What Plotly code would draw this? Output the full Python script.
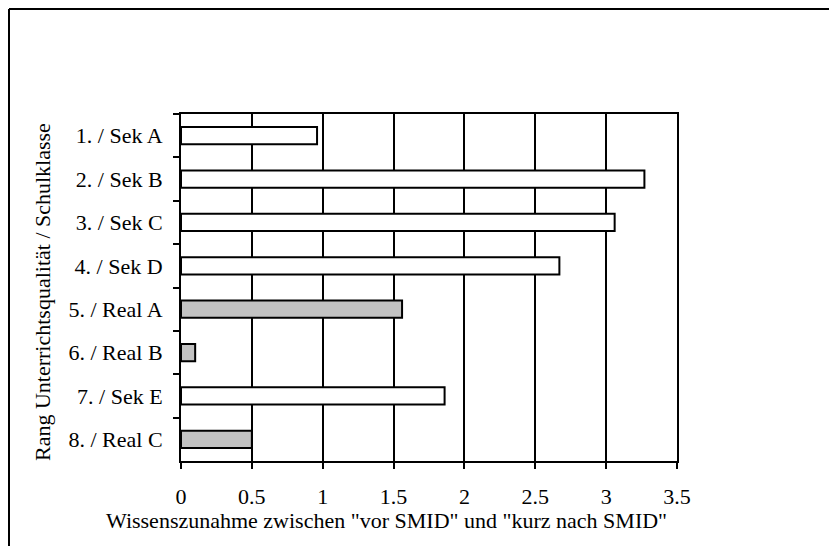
import plotly.graph_objects as go

categories = ["1. / Sek A", "2. / Sek B", "3. / Sek C", "4. / Sek D",
              "5. / Real A", "6. / Real B", "7. / Sek E", "8. / Real C"]
values = [0.96, 3.27, 3.06, 2.67, 1.56, 0.10, 1.86, 0.50]
fills = ["white", "white", "white", "white", "#c2c2c2", "#c2c2c2", "white", "#c2c2c2"]
x_ticks = [0, 0.5, 1, 1.5, 2, 2.5, 3, 3.5]
x_title = 'Wissenszunahme zwischen "vor SMID" und "kurz nach SMID"'
y_title = "Rang Unterrichtsqualität / Schulklasse"

# page offset of the figure (default body margin) is 8px on every side
OFF = 8
W, H = 838 - 2 * OFF, 555 - 2 * OFF
# plot-area edges in page pixels
L, R, T, B = 181, 677, 114, 461
pw, ph = R - L, B - T


def px(x):
    return (x - L) / pw


def py(y):
    return (B - y) / ph


FONT = "Liberation Serif, Times New Roman, serif"

fig = go.Figure(go.Bar(
    x=values, y=categories, orientation="h",
    marker=dict(color=fills, line=dict(color="black", width=2)),
    width=0.4,
))

# outer frame: top edge and left edge only (right/bottom lie off the page)
top_line = dict(type="line", xref="paper", yref="paper",
                x0=px(9), x1=px(W + OFF - 1), y0=py(9), y1=py(9),
                line=dict(color="black", width=2), layer="above")
left_line = dict(type="line", xref="paper", yref="paper",
                 x0=px(9), x1=px(9), y0=py(9), y1=py(H + OFF - 1),
                 line=dict(color="black", width=2), layer="above")

fig.update_layout(
    width=W, height=H,
    margin=dict(l=L - OFF, r=(W + OFF) - R, t=T - OFF, b=(H + OFF) - B),
    paper_bgcolor="white", plot_bgcolor="white",
    showlegend=False,
    font=dict(family=FONT, size=22, color="black"),
    xaxis=dict(
        range=[0, 3.5], tickvals=x_ticks, ticktext=[f"{v:g}" for v in x_ticks],
        showgrid=True, gridcolor="black", gridwidth=1.5,
        showline=True, linecolor="black", linewidth=2, mirror=True,
        ticks="outside", ticklen=6, tickcolor="black", tickwidth=1.5,
        ticklabelstandoff=9, zeroline=False,
        tickfont=dict(family=FONT, size=22),
    ),
    yaxis=dict(
        autorange="reversed", type="category",
        showline=True, linecolor="black", linewidth=2, mirror=True,
        ticks="outside", ticklen=6, tickcolor="black", tickwidth=1.5,
        tickson="boundaries", showgrid=False,
        ticklabelstandoff=12,
        tickfont=dict(family=FONT, size=22),
    ),
    shapes=[top_line, left_line],
    annotations=[
        dict(text=x_title, xref="paper", yref="paper", x=px(386), y=py(520),
             xanchor="center", yanchor="middle", showarrow=False,
             font=dict(family=FONT, size=22)),
        dict(text=y_title, xref="paper", yref="paper", x=px(42), y=py(292),
             xanchor="center", yanchor="middle", showarrow=False, textangle=-90,
             font=dict(family=FONT, size=22)),
    ],
)

fig.write_html("out.html")
